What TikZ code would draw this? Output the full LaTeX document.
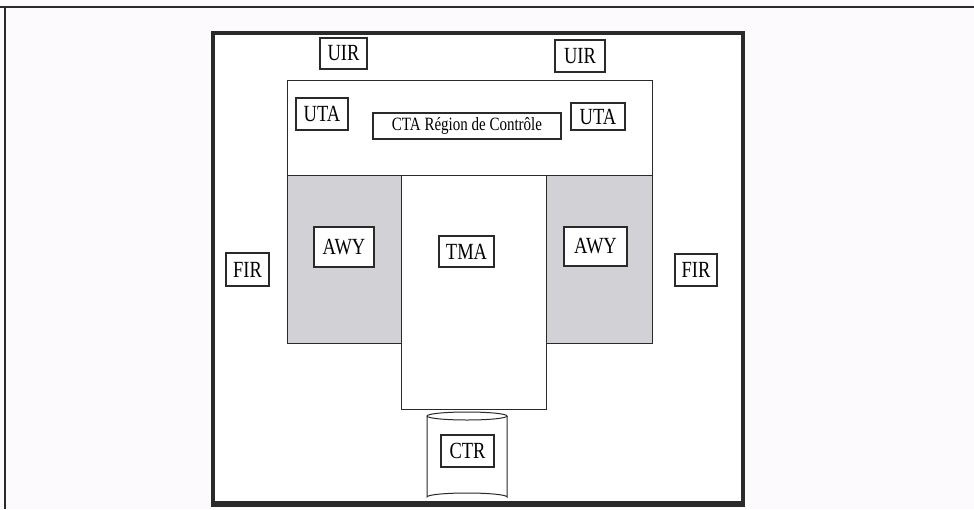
\documentclass[tikz,border=0pt]{standalone}
\usepackage{fontspec}
\setmainfont{Liberation Serif}
\usepackage{tikz}
\usetikzlibrary{positioning}
\definecolor{paper}{HTML}{FCFAFC}
\definecolor{ink}{HTML}{2A2A2A}
\definecolor{zone}{HTML}{D2D2D6}
\newcommand{\tallword}[1]{\scalebox{1}[1.25]{#1}}
\begin{document}
\begin{tikzpicture}[x=1pt,y=-1pt,
  region/.style={draw=ink,line width=1pt},
  tag/.style={draw=ink,line width=1.3pt,fill=white,inner sep=0pt,font=\fontsize{18.5}{18.5}\selectfont},
  frame/.style={draw=ink,line width=3.5pt}]
  \fill[paper] (0,0) rectangle (974,509);
  \useasboundingbox (0,0) rectangle (974,509);
  \draw[ink,line width=2pt] (0,7) -- (974,7);
  \draw[ink,line width=2pt] (5,7) -- (5,509);
  \draw[frame,fill=white] (213,33) rectangle (743,503);
  \draw[ink,line width=5pt] (211,504) -- (745,504);
  \draw[region,fill=white] (287,80) rectangle (652,175);
  \draw[region,fill=zone] (287,175) rectangle (401,343);
  \draw[region,fill=zone] (546,175) rectangle (652,343);
  \draw[region,fill=white] (401,175) rectangle (546,409);
  \draw[region,fill=white] (427,416) -- (427,497) arc[start angle=180,end angle=360,x radius=40,y radius=4] -- (507,416);
  \draw[region] (467,416) ellipse[x radius=40,y radius=4];
  \node[tag,minimum width=47,minimum height=31] (uirl) at (343.5,53.5) {\tallword{UIR}};
  \node[tag,minimum width=50,minimum height=32] (uirr) at (580,56) {\tallword{UIR}};
  \node[tag,minimum width=52,minimum height=32] (utal) at (322,114) {\tallword{UTA}};
  \node[tag,minimum width=188,minimum height=26,font=\fontsize{15}{15}\selectfont] (cta) at (467,126) {\tallword{CTA Région de Contrôle}};
  \node[tag,minimum width=54,minimum height=27] (utar) at (598,116.5) {\tallword{UTA}};
  \node[tag,minimum width=60,minimum height=40] (awyl) at (344,247) {\tallword{AWY}};
  \node[tag,minimum width=55,minimum height=31] (tma) at (466.5,251.5) {\tallword{TMA}};
  \node[tag,minimum width=63,minimum height=39] (awyr) at (595.5,246.5) {\tallword{AWY}};
  \node[tag,minimum width=43,minimum height=33] (firl) at (247.5,269.5) {\tallword{FIR}};
  \node[tag,minimum width=42,minimum height=32] (firr) at (696,270) {\tallword{FIR}};
  \node[tag,minimum width=53,minimum height=32] (ctr) at (467.5,451) {\tallword{CTR}};
\end{tikzpicture}
\end{document}
